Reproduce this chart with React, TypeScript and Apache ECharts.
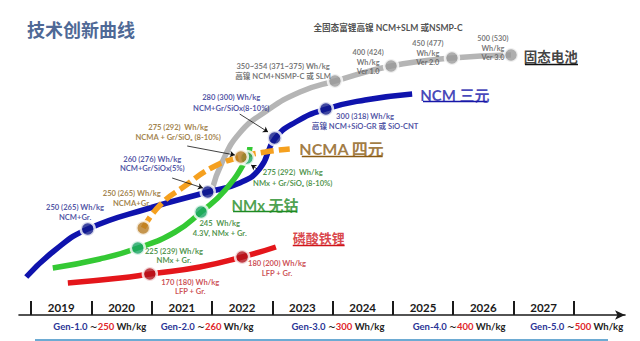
import React, { useEffect, useRef } from 'react';
import * as echarts from 'echarts';

// ---- timeline ----
const yearTicks = [2019, 2020, 2021, 2022, 2023, 2024, 2025, 2026, 2027, 2028];
const yearLabelPos = [2019.5, 2020.5, 2021.5, 2022.5, 2023.5, 2024.5, 2025.5, 2026.5, 2027.5];
const genNames = ['Gen-1.0', 'Gen-2.0', 'Gen-3.0', 'Gen-4.0', 'Gen-5.0'];
const genValues = [250, 260, 300, 400, 500];
const genPos = [2020.14, 2021.92, 2024.09, 2026.1, 2028.05];

// ---- curves: [year, level] ----
const ncmCurve = [
  [2018.92, 38], [2019.4, 65], [2019.94, 86], [2020.97, 107], [2021.93, 123], [2022.46, 132],
  [2022.8, 147], [2023.04, 176], [2023.39, 193], [2023.89, 206], [2024.54, 215], [2025.32, 221],
];
const ncmDots = [[2019.94, 86], [2021.93, 123], [2023.04, 177], [2023.89, 206]];

const solidCurve = [
  [2022.0, 125], [2022.17, 153], [2022.46, 182], [2022.88, 203], [2023.46, 223], [2024.04, 234],
  [2024.97, 249], [2025.98, 257], [2026.96, 260],
];
const solidDots = [[2024.04, 234], [2024.97, 249], [2025.98, 257], [2026.96, 260]];

const ncmaCurve = [
  [2020.86, 87], [2021.14, 110], [2021.55, 129], [2022.02, 148], [2022.48, 158], [2022.88, 163], [2023.29, 166],
];
const ncmaDots = [[2020.86, 87], [2022.48, 158]];

const nmxCurve = [
  [2019.36, 47], [2020.14, 56], [2020.77, 67], [2021.39, 83], [2021.82, 103], [2022.22, 125],
  [2022.58, 157], [2022.63, 168],
];
const nmxDots = [[2020.77, 67], [2021.82, 103], [2022.58, 157]];

const lfpCurve = [
  [2019.61, 32], [2020.48, 37], [2020.97, 41], [2021.8, 48], [2022.5, 58], [2023.06, 68],
];
const lfpDots = [[2020.97, 41], [2022.5, 58]];

// ---- annotation texts ----
const C_NCM = '#1f2a8e';
const C_NCMA = '#8a6420';
const C_NMX = '#1f7a22';
const C_LFP = '#c0262c';
const C_GRAY = '#555';

type Ann = { at: number[]; text: string; color: string; size: number; lh?: number; weight?: string };
const notes: Ann[] = [
  { at: [2024.92, 287], text: '全固态富锂高镍 NCM+SLM 或NSMP-C', color: '#222', size: 8.6 },
  { at: [2026.66, 267], text: '500 (530)\nWh/kg\nVer 3.0', color: C_GRAY, size: 7.3, lh: 9.5 },
  { at: [2025.58, 262], text: '450 (477)\nWh/kg\nVer 2.0', color: C_GRAY, size: 7.3, lh: 9.5 },
  { at: [2024.59, 253], text: '400 (424)\nWh/kg\nVer 1.0', color: C_GRAY, size: 7.3, lh: 9.5 },
  { at: [2023.18, 244], text: '350~354 (371~375) Wh/kg\n高镍 NCM+NSMP-C 或 SLM', color: C_GRAY, size: 7.6, lh: 10 },
  { at: [2024.54, 194], text: '300 (318) Wh/kg\n高镍 NCM+SiO-GR 或 SiO-CNT', color: C_NCM, size: 7.6, lh: 10 },
  { at: [2022.32, 212.5], text: '280 (300) Wh/kg\nNCM+Gr/SiOx(8-10%)', color: C_NCM, size: 7.6, lh: 10.5 },
  { at: [2021.44, 183], text: '275 (292)  Wh/kg\nNCMA + Gr/SiOₓ (8-10%)', color: C_NCMA, size: 7.6, lh: 10 },
  { at: [2021.01, 151.5], text: '260 (276) Wh/kg\nNCM+Gr/SiOx(5%)', color: C_NCM, size: 7.6, lh: 9.5 },
  { at: [2020.67, 117], text: '250 (265) Wh/kg\nNCMA+Gr.', color: C_NCMA, size: 7.6, lh: 10 },
  { at: [2019.73, 103], text: '250 (265) Wh/kg\nNCM+Gr.', color: C_NCM, size: 7.6, lh: 10 },
  { at: [2023.34, 137.5], text: '275 (292)  Wh/kg\nNMx + Gr/SiOₓ (8-10%)', color: C_NMX, size: 7.6, lh: 10.5 },
  { at: [2022.13, 87], text: '245  Wh/kg\n4.3V, NMx + Gr.', color: C_NMX, size: 7.6, lh: 10 },
  { at: [2021.37, 59.5], text: '225 (239) Wh/kg\nNMx + Gr.', color: C_NMX, size: 7.6, lh: 9.5 },
  { at: [2023.08, 47], text: '180 (200) Wh/kg\nLFP + Gr.', color: C_LFP, size: 7.6, lh: 10 },
  { at: [2021.64, 28.5], text: '170 (180) Wh/kg\nLFP + Gr.', color: C_LFP, size: 7.6, lh: 9.5 },
  { at: [2027.62, 258], text: '固态电池', color: '#111', size: 13.5, weight: 'bold' },
  { at: [2026.03, 220], text: 'NCM 三元', color: '#1717a8', size: 15, weight: 'bold' },
  { at: [2024.15, 167], text: 'NCMA 四元', color: '#8a5a12', size: 16, weight: 'bold' },
  { at: [2022.88, 110], text: 'NMx 无钴', color: '#1e8a22', size: 15, weight: 'bold' },
  { at: [2023.77, 77], text: '磷酸铁锂', color: '#d0141a', size: 13, weight: 'bold' },
];

const underlines = [
  { from: [2027.19, 251], to: [2028.07, 251], color: '#111' },
  { from: [2025.5, 214], to: [2026.56, 214], color: '#1717a8' },
  { from: [2023.49, 159], to: [2024.83, 159], color: '#8a5a12' },
  { from: [2022.35, 104], to: [2023.41, 104], color: '#1e8a22' },
  { from: [2023.34, 70], to: [2024.2, 70], color: '#d0141a' },
];

const arrows = [
  { from: [2022.46, 201], to: [2022.93, 183] },
  { from: [2021.59, 169], to: [2022.38, 160] },
  { from: [2021.34, 137], to: [2021.85, 127] },
  { from: [2022.75, 146], to: [2022.65, 150] },
];

const FONT = "Lato, 'Noto Sans CJK SC', sans-serif";

export default function App() {
  const ref = useRef<HTMLDivElement>(null);
  useEffect(() => {
    if (!ref.current) return;
    const chart = echarts.init(ref.current, undefined, { renderer: 'svg' });

    const lineSeries = (data: number[][], color: string, z: number, dashed = false) => ({
      type: 'line',
      data,
      smooth: 0.5,
      showSymbol: false,
      silent: true,
      z,
      lineStyle: { color, width: 5.5, type: dashed ? [13, 5] : 'solid' },
    });
    const dotSeries = (data: number[][], color: string, z: number) => ({
      type: 'scatter',
      data,
      symbolSize: 14,
      silent: true,
      z,
      itemStyle: { color, borderColor: '#fff', borderWidth: 2.5 },
    });

    chart.setOption({
      animation: false,
      backgroundColor: '#fff',
      title: {
        text: '技术创新曲线',
        left: 22,
        top: 15,
        textStyle: { color: '#4f6996', fontSize: 18, fontWeight: 'bold', fontFamily: "'Noto Sans CJK SC', sans-serif" },
      },
      grid: { left: 19, right: 15, top: 0, bottom: 26, outerBoundsMode: 'none' },
      xAxis: [
        {
          type: 'value',
          min: 2018.8,
          max: 2028.85,
          position: 'bottom',
          splitLine: { show: false },
          axisLine: {
            show: true,
            onZero: false,
            symbol: ['none', 'arrow'],
            symbolSize: [7, 10],
            lineStyle: { color: '#1a1a1a', width: 1.6 },
          },
          axisTick: { show: true, inside: true, length: 14, customValues: yearTicks, lineStyle: { color: '#1a1a1a', width: 2 } },
          axisLabel: {
            show: true,
            inside: true,
            customValues: yearLabelPos,
            formatter: (v: number) => String(Math.floor(v)),
            color: '#1a1a1a',
            fontSize: 11.5,
            fontWeight: 'bold',
            fontFamily: FONT,
            margin: 2,
          },
        },
        {
          type: 'value',
          min: 2018.8,
          max: 2028.85,
          position: 'bottom',
          offset: 0,
          splitLine: { show: false },
          axisLine: { show: false },
          axisTick: { show: false },
          axisLabel: {
            show: true,
            customValues: genPos,
            margin: 6,
            formatter: (v: number) => {
              let idx = 0;
              genPos.forEach((p, i) => { if (Math.abs(p - v) < Math.abs(genPos[idx] - v)) idx = i; });
              return `{g|${genNames[idx]} }{t|~}{n|${genValues[idx]}}{w| Wh/kg}`;
            },
            rich: {
              g: { color: '#2b3596', fontSize: 9.5, fontWeight: 'bold', fontFamily: FONT },
              t: { color: '#222', fontSize: 9.5, fontWeight: 'bold', fontFamily: "'DejaVu Sans', sans-serif" },
              n: { color: '#e0262a', fontSize: 9.5, fontWeight: 'bold', fontFamily: FONT },
              w: { color: '#222', fontSize: 9.5, fontWeight: 'bold', fontFamily: FONT },
            },
          },
        },
      ],
      yAxis: { type: 'value', min: 0, max: 315, show: false },
      graphic: [
        { type: 'line', shape: { x1: 35, y1: 340, x2: 608, y2: 340 }, style: { stroke: '#3d8fc4', lineWidth: 1.5 } },
      ],
      series: [
        lineSeries(solidCurve, '#b5b5b5', 2),
        lineSeries(ncmCurve, '#0f13ad', 3),
        lineSeries(lfpCurve, '#e4161b', 3),
        lineSeries(nmxCurve, '#34c934', 4),
        lineSeries(ncmaCurve, '#f5a01f', 5, true),
        dotSeries(solidDots, '#9a9a9a', 6),
        dotSeries(ncmDots, '#101a8a', 6),
        dotSeries(lfpDots, '#b0101a', 6),
        dotSeries(nmxDots, '#19a463', 7),
        dotSeries(ncmaDots, '#b77a22', 8),
        {
          type: 'lines',
          coordinateSystem: 'cartesian2d',
          silent: true,
          z: 9,
          symbol: ['none', 'arrow'],
          symbolSize: 5,
          lineStyle: { color: '#111', width: 0.8, opacity: 1 },
          data: arrows.map((a) => ({ coords: [a.from, a.to] })),
        },
        {
          type: 'lines',
          coordinateSystem: 'cartesian2d',
          silent: true,
          z: 9,
          symbol: ['none', 'none'],
          data: underlines.map((u) => ({ coords: [u.from, u.to], lineStyle: { color: u.color, width: 1.3, opacity: 1 } })),
        },
        {
          type: 'scatter',
          silent: true,
          z: 10,
          symbolSize: 1,
          itemStyle: { color: 'rgba(0,0,0,0)' },
          label: { show: true, position: 'inside' },
          data: notes.map((n) => ({
            value: n.at,
            label: {
              show: true,
              position: 'inside',
              formatter: n.text,
              color: n.color,
              fontSize: n.size,
              fontWeight: n.weight || 'bold',
              fontFamily: FONT,
              lineHeight: n.lh || n.size * 1.2,
              align: 'center',
              verticalAlign: 'middle',
            },
          })),
        },
      ],
    });
    return () => chart.dispose();
  }, []);
  return (
    <div
      ref={ref}
      style={{ position: 'fixed', left: 0, top: 0, width: 640, height: 341, background: '#fff' }}
    />
  );
}
